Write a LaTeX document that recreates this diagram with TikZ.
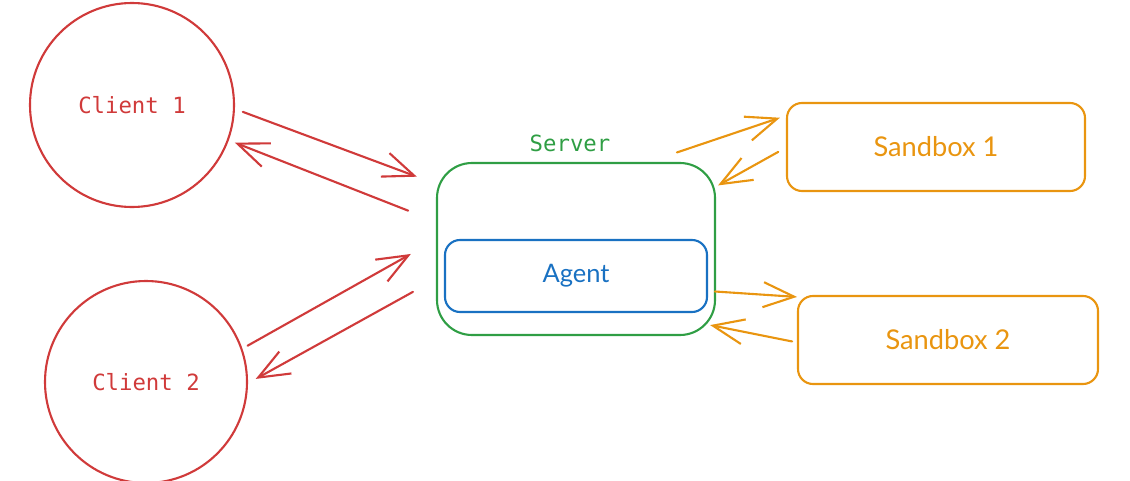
\documentclass[tikz,border=0pt]{standalone}
\usepackage{fontspec}
\usepackage{tikz}
\usepackage{xcolor}
\usetikzlibrary{arrows.meta}
\newfontfamily\monofont{DejaVu Sans Mono}
\newfontfamily\handfont{Lato}
\definecolor{clientred}{HTML}{D03A3A}
\definecolor{servergreen}{HTML}{2F9E44}
\definecolor{agentblue}{HTML}{1971C2}
\definecolor{sandorange}{HTML}{E99510}
\tikzset{>={Straight Barb[length=0.62cm,width=0.5cm]}}
\tikzset{client/.style = {shape=circle, draw=clientred, line width=1.2pt,
text=clientred, font=\monofont\fontsize{12.7}{15}\selectfont,
inner sep=0pt, outer sep=0pt}}
\tikzset{serverbox/.style = {shape=rectangle, draw=servergreen, line width=1.2pt,
rounded corners=0.7cm, minimum width=5.56cm, minimum height=3.44cm,
inner sep=0pt, outer sep=0pt}}
\tikzset{agentbox/.style = {shape=rectangle, draw=agentblue, line width=1.2pt,
rounded corners=0.3cm, minimum width=5.24cm, minimum height=1.44cm,
text=agentblue, font=\handfont\fontsize{14.5}{16}\selectfont,
inner sep=0pt, outer sep=0pt}}
\tikzset{sandbox/.style = {shape=rectangle, draw=sandorange, line width=1.2pt,
rounded corners=0.3cm, minimum height=1.76cm,
text=sandorange, font=\handfont\fontsize{15.5}{17}\selectfont,
inner sep=0pt, outer sep=0pt}}
\tikzset{flow/.style = {->, line width=1.2pt, line cap=round, line join=round}}

\begin{document}
\begin{tikzpicture}
                \useasboundingbox (0,0) rectangle (22.6,9.6);

                \node[client, minimum size=4.08cm] (client1) at (2.64,7.5) {Client 1};
                \node[client, minimum size=4.04cm] (client2) at (2.92,1.96) {Client 2};

                \node[serverbox] (server) at (11.52,4.62) {};
                \node[text=servergreen, font=\monofont\fontsize{12.7}{15}\selectfont]
                    (serverlabel) at (11.4,6.74) {Server};
                \node[agentbox] (agent) at (11.52,4.08) {Agent};

                \node[sandbox, minimum width=5.96cm] (sandbox1) at (18.72,6.66) {Sandbox 1};
                \node[sandbox, minimum width=6.0cm] (sandbox2) at (18.96,2.8) {Sandbox 2};

                % clients <-> server
                \draw[flow, clientred, shorten <=0.19cm, shorten >=0.43cm] (client1.-2) to (server.155);
                \draw[flow, clientred, shorten <=0.62cm, shorten >=0.15cm] (server.169.6) to (client1.-20);
                \draw[flow, clientred, shorten <=0.14cm, shorten >=0.6cm] (client2.19) to (server.176.9);
                \draw[flow, clientred, shorten <=0.55cm, shorten >=0.2cm] (server.-168) to (client2.-1.7);

                % server <-> sandboxes
                \draw[flow, sandorange, shorten <=0.66cm, shorten >=0.15cm] (server.51.9) to (sandbox1.168.9);
                \draw[flow, sandorange, shorten <=0.2cm, shorten >=0.07cm] (sandbox1.180) to (server.24.2);
                \draw[flow, sandorange, shorten <=0cm, shorten >=0.02cm] (server.-17.2) to (sandbox2.164);
                \draw[flow, sandorange, shorten <=0.12cm, shorten >=-0.1cm] (sandbox2.181.6) to (server.-29);
            \end{tikzpicture}
\end{document}
